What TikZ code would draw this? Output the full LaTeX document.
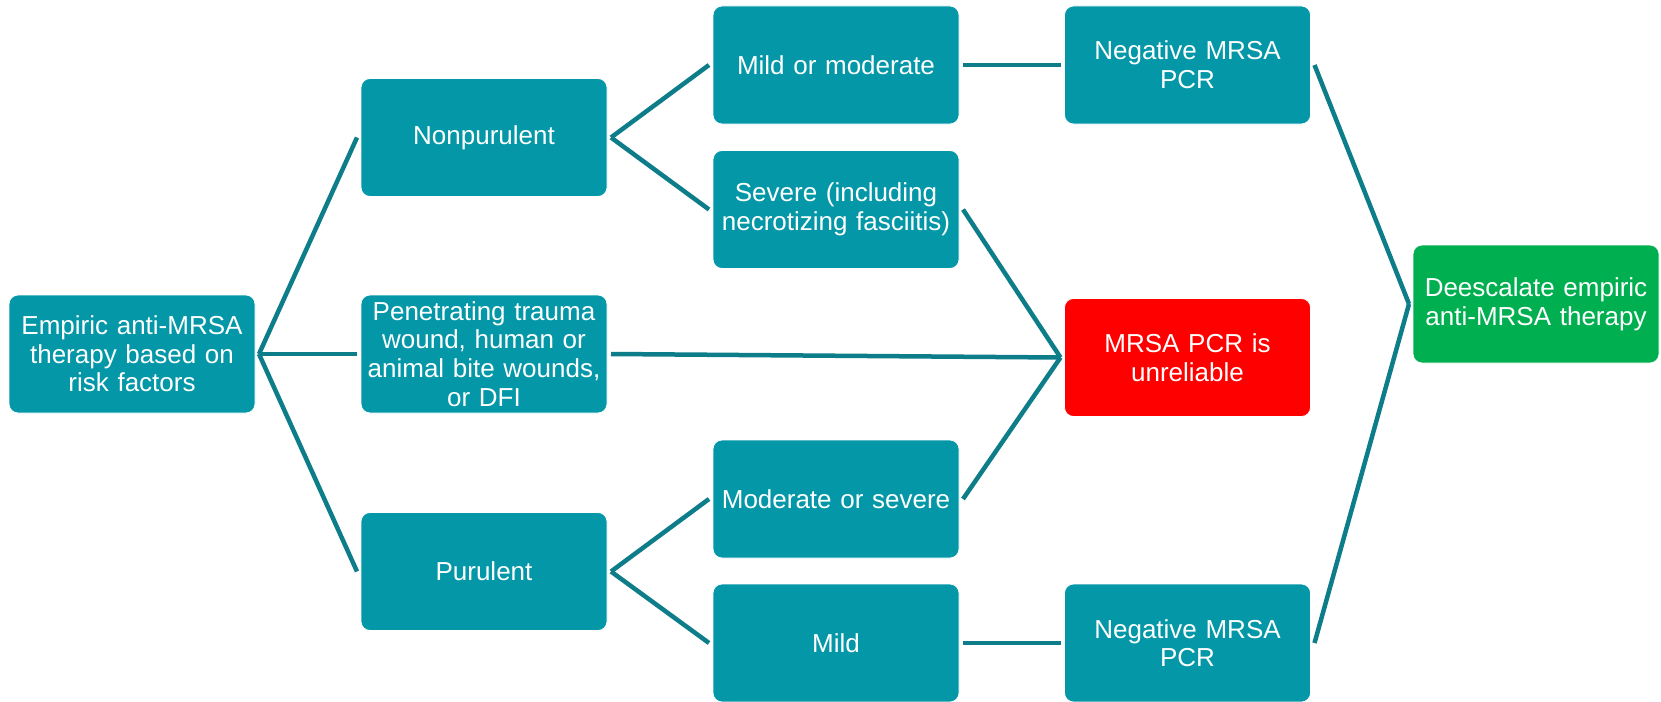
\documentclass[tikz,border=0pt]{standalone}
\usepackage{fontspec}
\setmainfont{Liberation Sans}
\definecolor{boxteal}{RGB}{3,151,167}
\definecolor{lineteal}{RGB}{14,125,138}
\definecolor{alertred}{RGB}{255,0,0}
\definecolor{okgreen}{RGB}{0,176,80}
\tikzset{
  box/.style={draw=white, line width=0.8pt, fill=boxteal, rounded corners=9pt,
    minimum width=246pt, minimum height=118pt, text width=240pt, align=center,
    inner sep=0pt, outer sep=4pt, text=white, font=\fontsize{26}{28.6}\selectfont},
  link/.style={draw=lineteal, line width=4.5pt}
}
\begin{document}
\begin{tikzpicture}[x=1pt,y=-1pt]
    \useasboundingbox (0,0) rectangle (1661,701);
    \clip (0,0) rectangle (1661,701);

    % Point de depart
    \node[box] (emp) at (132,354) {Empiric anti-MRSA\\therapy based on\\risk factors};

    % Types d'infection
    \node[box] (nonpur) at (484,137.5) {Nonpurulent};
    \node[box] (pen) at (484,354) {Penetrating trauma\\wound, human or\\animal bite wounds,\\or DFI};
    \node[box] (pur) at (484,571.5) {Purulent};

    % Severite
    \node[box] (mildmod) at (836,65) {Mild or moderate};
    \node[box] (sev) at (836,209.5) {Severe (including\\necrotizing fasciitis)};
    \node[box] (modsev) at (836,499) {Moderate or severe};
    \node[box] (mild) at (836,643) {Mild};

    % Resultat PCR
    \node[box] (neg1) at (1187.5,65) {Negative MRSA\\PCR};
    \node[box, fill=alertred] (unrel) at (1187.5,357.5) {MRSA PCR is\\unreliable};
    \node[box] (neg2) at (1187.5,643) {Negative MRSA\\PCR};

    % Decision
    \node[box, fill=okgreen] (deesc) at (1536,304) {Deescalate empiric\\anti-MRSA therapy};

    % Liaisons
    \draw[link] (emp.east) -- (nonpur.west);
    \draw[link] (emp.east) -- (pen.west);
    \draw[link] (emp.east) -- (pur.west);
    \draw[link] (nonpur.east) -- (mildmod.west);
    \draw[link] (nonpur.east) -- (sev.west);
    \draw[link] (pur.east) -- (modsev.west);
    \draw[link] (pur.east) -- (mild.west);
    \draw[link] (mildmod.east) -- (neg1.west);
    \draw[link] (mild.east) -- (neg2.west);
    \draw[link] (sev.east) -- (unrel.west);
    \draw[link] (pen.east) -- (unrel.west);
    \draw[link] (modsev.east) -- (unrel.west);
    \draw[link] (neg1.east) -- (deesc.west);
    \draw[link] (neg2.east) -- (deesc.west);
\end{tikzpicture}
\end{document}
